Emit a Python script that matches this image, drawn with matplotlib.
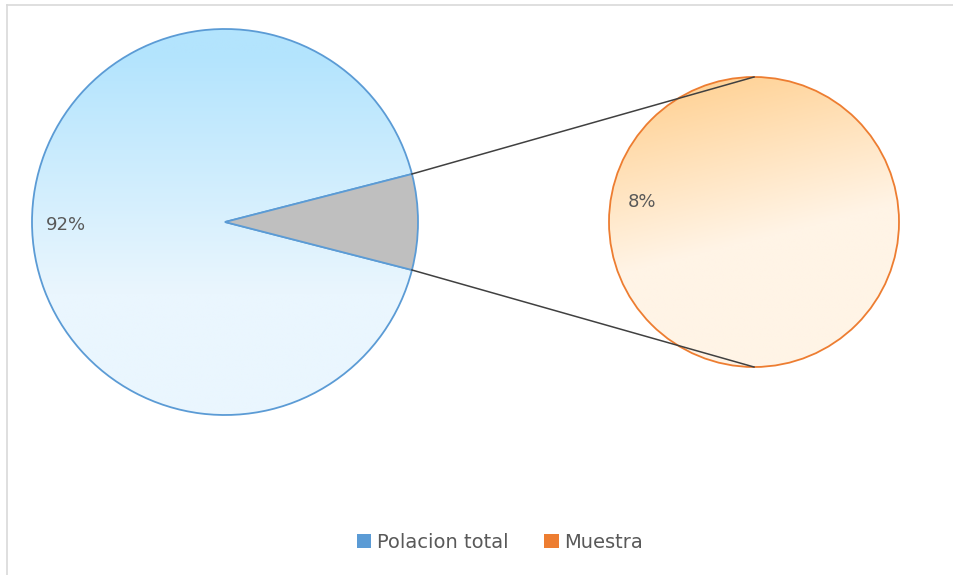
import matplotlib.pyplot as plt
import numpy as np
from matplotlib.colors import LinearSegmentedColormap
from matplotlib.lines import Line2D
from matplotlib.patches import Circle, Patch, Wedge

# data
labels = ["Polacion total", "Muestra"]
values = [92, 8]
value_labels = ["92%", "8%"]
edge_colors = ["#5b9bd5", "#ed7d31"]

W, H = 954, 575
fig = plt.figure(figsize=(W / 100, H / 100), dpi=100)
ax = fig.add_axes([0, 0, 1, 1])
ax.set_xlim(0, W)
ax.set_ylim(H, 0)
ax.set_aspect("equal")
ax.axis("off")

# chart frame (only top/left visible in the crop)
ax.add_line(Line2D([7.5, W], [4.5, 4.5], color="#d9d9d9", lw=1.2))
ax.add_line(Line2D([7.5, 7.5], [4.5, H], color="#d9d9d9", lw=1.2))

# geometry
c1, r1 = (225, 222), 193
c2, r2 = (754, 222), 145
frac = values[1] / sum(values)
half = frac * 360 / 2


def gradient(patch, center, r, top, bottom, diag=0.0):
    yy, xx = np.mgrid[0:1:200j, 0:1:200j]
    t = np.clip(yy * 1.6 + diag * xx - 0.1, 0, 1)
    cmap = LinearSegmentedColormap.from_list("g", [top, bottom])
    im = ax.imshow(cmap(t), extent=(center[0] - r, center[0] + r, center[1] + r, center[1] - r),
                   zorder=1, interpolation="bilinear")
    im.set_clip_path(patch)


# left pie: main slice with gradient, small slice grey
main = Wedge(c1, r1, half, 360 - half, facecolor="none", edgecolor=edge_colors[0], lw=1.3, zorder=3)
ax.add_patch(main)
gradient(main, c1, r1, "#b3e4fd", "#eaf6fe")
ax.add_patch(Wedge(c1, r1, -half, half, facecolor="#bfbfbf", edgecolor=edge_colors[0], lw=1.3, zorder=3))

# right pie: sample
circ = Circle(c2, r2, facecolor="none", edgecolor=edge_colors[1], lw=1.3, zorder=3)
ax.add_patch(circ)
gradient(circ, c2, r2, "#ffd193", "#fff4e6", diag=0.4)

# connector lines
for s in (-1, 1):
    a = np.deg2rad(s * half)
    x0, y0 = c1[0] + r1 * np.cos(a), c1[1] + r1 * np.sin(a)
    ax.add_line(Line2D([x0, c2[0]], [y0, c2[1] + s * r2], color="#404040", lw=1.1, zorder=4))

# value labels
ax.text(66, 225, value_labels[0], fontsize=13, color="#595959", ha="center", va="center", zorder=5)
ax.text(642, 202, value_labels[1], fontsize=13, color="#595959", ha="center", va="center", zorder=5)

handles = [Patch(facecolor=edge_colors[0]), Patch(facecolor=edge_colors[1])]
fig.legend(handles, labels, loc="center", bbox_to_anchor=(500 / W, 1 - 542 / H), ncol=2,
           frameon=False, fontsize=14, labelcolor="#595959", handlelength=0.75, handleheight=0.75,
           handletextpad=0.3, columnspacing=1.8)

fig.savefig("out.png", dpi=100)
